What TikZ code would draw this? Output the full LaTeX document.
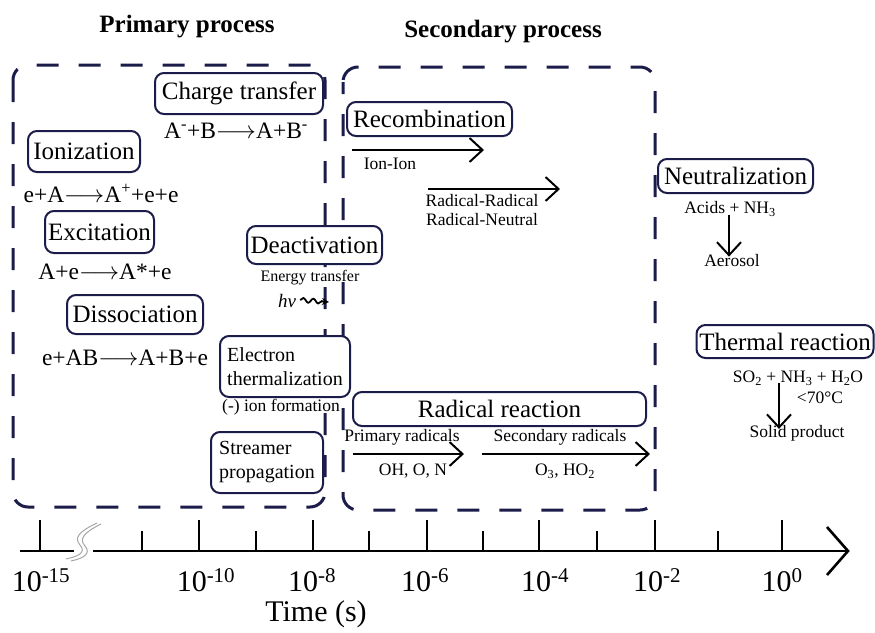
\documentclass[tikz,border=0pt]{standalone}
\usepackage{fontspec}
\setmainfont{Liberation Serif}
\usetikzlibrary{arrows.meta,decorations.pathmorphing}
\definecolor{navy}{HTML}{1C1C4A}
\begin{document}
\begin{tikzpicture}[x=1pt,y=-1pt,
  procbox/.style={draw=navy, line width=2pt, rounded corners=9pt, fill=white, inner sep=0pt,
    font=\fontsize{25}{28}\selectfont},
  twobox/.style={procbox, align=left, font=\fontsize{20}{24}\selectfont},
  lab/.style={inner sep=0pt, font=\fontsize{17.5}{20}\selectfont, align=center},
  eqn/.style={inner sep=0pt, font=\fontsize{23.5}{26}\selectfont},
  ttl/.style={inner sep=0pt, font=\bfseries\fontsize{25}{28}\selectfont},
  ticklab/.style={inner sep=0pt, font=\fontsize{30}{32}\selectfont},
  region/.style={draw=navy, line width=3pt, dash pattern=on 22pt off 20pt, rounded corners=15pt},
  barb/.style={line width=2pt, -{Straight Barb[length=13pt,width=24pt,line width=2pt]}},
  axisline/.style={line width=2.6pt},
  brk/.style={draw=gray!70, line width=1pt}
]
\useasboundingbox (0,0) rectangle (875,632);

% titles
\node[ttl] (tprim) at (187,27) {Primary process};
\node[ttl] (tsec) at (503,32) {Secondary process};

% dashed regions
\draw[region] (13,65) rectangle (325,507);
\draw[region, dash phase=10pt] (343,67) rectangle (655,510);

% primary process
\node[procbox, minimum width=168pt, minimum height=41pt] (charge) at (239,93.5) {Charge transfer};
\node[eqn] (chargeeq) at (236,131) {A\textsuperscript{-}+B$\longrightarrow$A+B\textsuperscript{-}};
\node[procbox, minimum width=112pt, minimum height=41pt] (ion) at (84,151.5) {Ionization};
\node[eqn] (ioneq) at (101,193) {e+A$\longrightarrow$A\textsuperscript{+}+e+e};
\node[procbox, minimum width=109pt, minimum height=42pt] (exc) at (99.5,232) {Excitation};
\node[eqn] (exceq) at (105,272) {A+e$\longrightarrow$A*+e};
\node[procbox, minimum width=136pt, minimum height=39pt] (diss) at (135,314.5) {Dissociation};
\node[eqn] (disseq) at (125,358) {e+AB$\longrightarrow$A+B+e};
\node[procbox, minimum width=135pt, minimum height=38pt] (deact) at (314.5,245) {Deactivation};
\node[lab, font=\fontsize{16}{18}\selectfont] (energy) at (310,278) {Energy transfer};
\node[lab, font=\itshape\fontsize{19}{20}\selectfont] (hv) at (287,301) {hν};
\coordinate (wavyend) at (329,302);
\draw[line width=1.8pt, decorate, decoration={snake, amplitude=2.2pt, segment length=10pt, post length=5pt},
  -{Stealth[length=7pt,width=7pt]}] (hv.east) ++(4pt,1pt) -- (wavyend);
\node[twobox, minimum width=130pt, minimum height=61pt] (eth) at (285,366.5) {Electron\\thermalization};
\node[lab] (ionform) at (281,407) {(-) ion formation};
\node[twobox, minimum width=112pt, minimum height=61pt] (stream) at (267,462.5) {Streamer\\propagation};

% secondary process
\node[procbox, minimum width=165pt, minimum height=34pt] (recomb) at (429.5,119) {Recombination};
\coordinate (ra1) at (352,150);
\coordinate (rb1) at (484,150);
\draw[barb] (ra1) -- (rb1);
\node[lab] (ionion) at (390,164) {Ion-Ion};
\coordinate (ra2) at (428,189);
\coordinate (rb2) at (560,189);
\draw[barb] (ra2) -- (rb2);
\node[lab, font=\fontsize{17.5}{19}\selectfont] (radrad) at (482,210.5) {Radical-Radical\\Radical-Neutral};

\node[procbox, minimum width=293pt, minimum height=34pt] (radreact) at (499.5,409) {Radical reaction};
\node[lab] (primrad) at (402,437) {Primary radicals};
\coordinate (pa) at (353,454);
\coordinate (pb) at (464,454);
\draw[barb] (pa) -- (pb);
\node[lab] (ohon) at (413,471) {OH, O, N};
\node[lab] (secrad) at (560,437) {Secondary radicals};
\coordinate (sa) at (482,454);
\coordinate (sb) at (650,454);
\draw[barb] (sa) -- (sb);
\node[lab] (o3ho2) at (565,471) {O\textsubscript{3}, HO\textsubscript{2}};

\node[procbox, minimum width=155pt, minimum height=34pt] (neut) at (735.5,176) {Neutralization};
\node[lab] (acids) at (730,209) {Acids + NH\textsubscript{3}};
\node[lab] (aerosol) at (732,261) {Aerosol};
\draw[barb] (acids.south -| 729,0) ++(0,2pt) -- ([yshift=-2pt]aerosol.north -| 729,0);

\node[procbox, minimum width=177pt, minimum height=33pt] (thermal) at (785,341.5) {Thermal reaction};
\node[lab] (so2) at (798,378) {SO\textsubscript{2} + NH\textsubscript{3} + H\textsubscript{2}O};
\node[lab] (temp) at (820,398) {<70°C};
\node[lab] (solid) at (797,433) {Solid product};
\draw[barb] (so2.south -| 779,0) ++(0,2pt) -- ([yshift=-4pt]solid.north -| 779,0);

% time axis
\coordinate (ax0) at (20,551);
\coordinate (axb1) at (74,551);
\coordinate (axb2) at (93,551);
\coordinate (axend) at (848,551);
\draw[axisline] (ax0) -- (axb1);
\draw[axisline] (axb2) -- (axend);
\draw[axisline, line join=miter] (827,527) -- (axend) -- (827,575);
\draw[brk] (97,523) .. controls (78,532) and (74,538) .. (80,545) .. controls (86,552) and (80,556) .. (66,559);
\draw[brk] (101,524) .. controls (83,533) and (79,539) .. (85,546) .. controls (91,553) and (85,558) .. (71,561);
\foreach \x in {40,199,313,427,539,655,782} \draw[axisline] (\x,551) -- (\x,520);
\foreach \x in {142,256,369,483,597,718} \draw[axisline] (\x,551) -- (\x,531);
\node[ticklab] (l15) at (41,580) {10\textsuperscript{-15}};
\node[ticklab] (l10) at (206,580) {10\textsuperscript{-10}};
\node[ticklab] (l8) at (312,580) {10\textsuperscript{-8}};
\node[ticklab] (l6) at (425,580) {10\textsuperscript{-6}};
\node[ticklab] (l4) at (545,580) {10\textsuperscript{-4}};
\node[ticklab] (l2) at (657,580) {10\textsuperscript{-2}};
\node[ticklab] (l0) at (782,580) {10\textsuperscript{0}};
\node[ticklab] (timelab) at (316,614) {Time (s)};
\end{tikzpicture}
\end{document}
